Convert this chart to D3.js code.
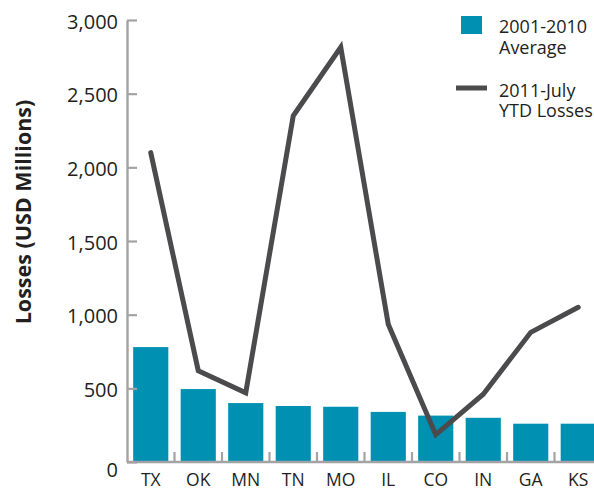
<!DOCTYPE html>
<html>
<head>
<meta charset="utf-8">
<script src="https://cdn.jsdelivr.net/npm/d3@7"></script>
<style>
  html, body { margin: 0; padding: 0; background: #fff; }
  svg { display: block; font-family: "Open Sans", sans-serif; }
</style>
</head>
<body>
<svg id="chart" width="594" height="490"></svg>
<script>
const states = ["TX", "OK", "MN", "TN", "MO", "IL", "CO", "IN", "GA", "KS"];
const avg2001_2010 = [780, 495, 400, 380, 375, 340, 315, 300, 260, 260];
const ytd2011 = [2100, 620, 470, 2350, 2815, 935, 185, 460, 880, 1050];
const yTicks = [0, 500, 1000, 1500, 2000, 2500, 3000];
const legendBars = ["2001-2010", "Average"];
const legendLine = ["2011-July", "YTD Losses"];
const yTitle = "Losses (USD Millions)";

const svg = d3.select("#chart");
const barColor = "#0090b2";
const lineColor = "#4b4b4d";
const axisColor = "#a3a3a5";
const textColor = "#231f20";

const x = d3.scaleBand().domain(states).range([127, 602]).paddingInner(0.26).paddingOuter(0.13);
const y = d3.scaleLinear().domain([0, 3000]).range([462, 20]);

// bars
svg.append("g").selectAll("rect").data(states).join("rect")
  .attr("x", d => x(d))
  .attr("y", (d, i) => y(avg2001_2010[i]))
  .attr("width", x.bandwidth())
  .attr("height", (d, i) => y(0) - y(avg2001_2010[i]))
  .attr("fill", barColor);

// y axis
const yAxis = d3.axisLeft(y).tickValues(yTicks).tickSizeInner(-10).tickSizeOuter(0).tickPadding(9)
  .tickFormat(d3.format(","));
const gy = svg.append("g").attr("transform", "translate(127,0)").call(yAxis);
gy.select(".domain").attr("stroke", axisColor).attr("stroke-width", 2.4);
gy.selectAll(".tick line").attr("stroke", axisColor).attr("stroke-width", 2.2);
gy.selectAll(".tick text").attr("fill", textColor).style("font-size", "20px").style("font-family", "Open Sans")
  .attr("dy", d => d === 0 ? "0.72em" : "0.4em");

// x axis
const xAxis = d3.axisBottom(x).tickSize(0).tickPadding(12);
const gx = svg.append("g").attr("transform", "translate(0,462)").call(xAxis);
gx.select(".domain").remove();
gx.selectAll(".tick text").attr("fill", textColor).style("font-size", "17.5px").style("font-family", "Open Sans");
svg.append("line").attr("x1", 127).attr("x2", 594).attr("y1", 462).attr("y2", 462)
  .attr("stroke", axisColor).attr("stroke-width", 2.4);
svg.append("g").selectAll("line").data(states.slice(1)).join("line")
  .attr("x1", d => x(d) - x.step() * x.paddingInner() / 2)
  .attr("x2", d => x(d) - x.step() * x.paddingInner() / 2)
  .attr("y1", 462).attr("y2", 452)
  .attr("stroke", axisColor).attr("stroke-width", 2.2);

// line
const line = d3.line()
  .x((d, i) => x(states[i]) + x.bandwidth() / 2)
  .y(d => y(d));
svg.append("path").datum(ytd2011)
  .attr("d", line)
  .attr("fill", "none")
  .attr("stroke", lineColor)
  .attr("stroke-width", 5)
  .attr("stroke-linejoin", "miter")
  .attr("stroke-linecap", "round");

// y title
svg.append("text")
  .attr("transform", "translate(31,212) rotate(-90)")
  .attr("text-anchor", "middle")
  .attr("fill", textColor)
  .style("font-size", "21.5px").style("font-weight", "bold")
  .text(yTitle);

// legend
const lg = svg.append("g");
lg.append("rect").attr("x", 461).attr("y", 16).attr("width", 21).attr("height", 18).attr("fill", barColor);
lg.selectAll("text.lb").data(legendBars).join("text").attr("class", "lb")
  .attr("x", 499).attr("y", (d, i) => 33 + i * 20.5)
  .attr("fill", textColor).style("font-size", "18px").text(d => d);
lg.append("line").attr("x1", 456).attr("x2", 487).attr("y1", 88).attr("y2", 88)
  .attr("stroke", lineColor).attr("stroke-width", 5);
lg.selectAll("text.ll").data(legendLine).join("text").attr("class", "ll")
  .attr("x", 499).attr("y", (d, i) => 96.5 + i * 20.5)
  .attr("fill", textColor).style("font-size", "18px").text(d => d);
</script>
</body>
</html>
